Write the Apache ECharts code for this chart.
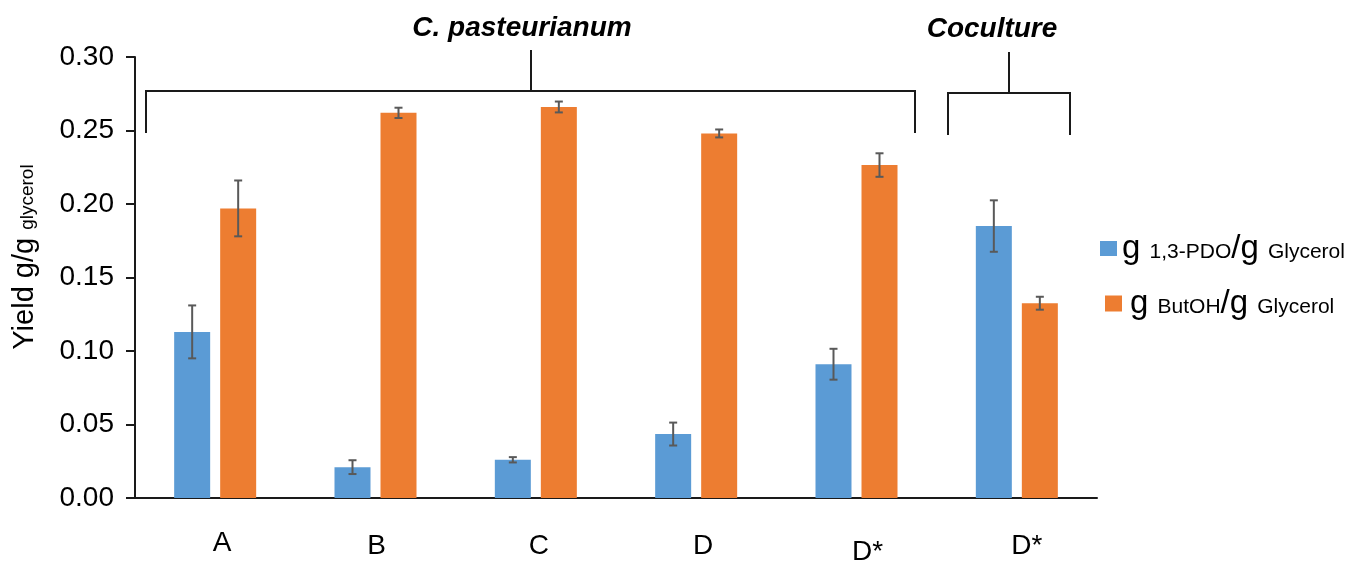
<!DOCTYPE html>
<html>
<head>
<meta charset="utf-8">
<script src="https://cdn.jsdelivr.net/npm/echarts@6/dist/echarts.min.js"></script>
<style>
html,body{margin:0;padding:0;background:#fff;}
#chart{width:1368px;height:562px;}
</style>
</head>
<body>
<div id="chart"></div>
<script>
// ---- data ----
const categories = ['A', 'B', 'C', 'D', 'D*', 'D*'];
const seriesNames = ['g 1,3-PDO/g Glycerol', 'g ButOH/g Glycerol'];
const pdoYield = [0.113, 0.021, 0.026, 0.0435, 0.091, 0.185];
const pdoError = [0.018, 0.0047, 0.0018, 0.0078, 0.0105, 0.0175];
const butohYield = [0.197, 0.262, 0.266, 0.248, 0.2265, 0.1325];
const butohError = [0.019, 0.0035, 0.0037, 0.0027, 0.008, 0.0044];
const yTicks = ['0.00', '0.05', '0.10', '0.15', '0.20', '0.25', '0.30'];
const groupLabels = ['C. pasteurianum', 'Coculture'];

// ---- style ----
const FONT = '"Liberation Sans", Arial, sans-serif';
const BLUE = '#5B9BD5';
const ORANGE = '#ED7D31';
const ERR = '#595959';
const BAR_W = 36;
const BAR_GAP_PX = 10;
const labelNudge = [[0, 7], [3, 1], [3, 3], [3, 7], [9, 11], [3, 10]]; // [down, right]

const chart = echarts.init(document.getElementById('chart'), null, {renderer: 'canvas'});

function errSeries(vals, errs, sign, name) {
  return {
    type: 'custom',
    name: name + ' err',
    z: 5,
    silent: true,
    data: vals.map((v, i) => [i, v, errs[i]]),
    renderItem: function (params, api) {
      const i = api.value(0), v = api.value(1), e = api.value(2);
      const off = sign * (BAR_W + BAR_GAP_PX) / 2;
      const t = api.coord([i, v + e]);
      const b = api.coord([i, v - e]);
      const cx = t[0] + off;
      const hw = 4;
      const st = {stroke: ERR, lineWidth: 2};
      return {
        type: 'group',
        children: [
          {type: 'line', shape: {x1: cx, y1: t[1], x2: cx, y2: b[1]}, style: st},
          {type: 'line', shape: {x1: cx - hw, y1: t[1], x2: cx + hw, y2: t[1]}, style: st},
          {type: 'line', shape: {x1: cx - hw, y1: b[1], x2: cx + hw, y2: b[1]}, style: st}
        ]
      };
    }
  };
}

const legendRich = {
  big: {fontSize: 33, fontFamily: FONT, color: '#000', lineHeight: 36},
  sub: {fontSize: 21, fontFamily: FONT, color: '#000', lineHeight: 36, padding: [7, 0, 0, 0]}
};
function legendFmt(name) {
  const parts = name.split(' '); // g, X/g, Glycerol
  const mid = parts[1].split('/');
  return '{big|g }{sub|' + mid[0] + '}{big|/g }{sub|' + parts[2] + '}';
}

const option = {
  animation: false,
  backgroundColor: '#fff',
  grid: {left: 135, right: 271, top: 57, bottom: 64, containLabel: false, outerBoundsMode: 'none'},
  legend: [
    {data: [seriesNames[0]], left: 1095, top: 227, icon: 'rect', itemWidth: 17, itemHeight: 15,
     itemGap: 0, formatter: legendFmt, textStyle: {rich: legendRich, padding: [0, 0, 0, 0]}},
    {data: [seriesNames[1]], left: 1100, top: 282, icon: 'rect', itemWidth: 17, itemHeight: 16,
     itemGap: 0, formatter: legendFmt, textStyle: {rich: legendRich, padding: [0, 0, 0, 3]}}
  ],
  xAxis: {
    type: 'category',
    data: categories.map((c, i) => ({
      value: c,
      textStyle: {padding: [labelNudge[i][0], 0, 0, labelNudge[i][1] * 2]}
    })),
    axisLine: {lineStyle: {color: '#1a1a1a', width: 2}},
    axisTick: {show: false},
    axisLabel: {fontSize: 28, fontFamily: FONT, color: '#000', margin: 31, interval: 0},
    splitLine: {show: false}
  },
  yAxis: {
    type: 'value',
    min: 0, max: 0.30, interval: 0.05,
    axisLine: {show: true, lineStyle: {color: '#1a1a1a', width: 2}},
    axisTick: {show: true, length: 9, lineStyle: {color: '#1a1a1a', width: 2}},
    axisLabel: {
      fontSize: 28, fontFamily: FONT, color: '#000', margin: 21,
      formatter: v => yTicks[Math.round(v / 0.05)]
    },
    splitLine: {show: false}
  },
  series: [
    {type: 'bar', name: seriesNames[0], data: pdoYield, barWidth: BAR_W,
     barGap: (BAR_GAP_PX / BAR_W * 100).toFixed(1) + '%',
     itemStyle: {color: BLUE}},
    {type: 'bar', name: seriesNames[1], data: butohYield, barWidth: BAR_W,
     itemStyle: {color: ORANGE}},
    errSeries(pdoYield, pdoError, -1, seriesNames[0]),
    errSeries(butohYield, butohError, 1, seriesNames[1])
  ],
  graphic: [
    {type: 'text', x: 25, y: 257, rotation: Math.PI / 2,
     style: {text: '{m|Yield g/g }{s|glycerol}', align: 'center', verticalAlign: 'middle',
       rich: {
         m: {fontSize: 29, fontFamily: FONT, fill: '#000'},
         s: {fontSize: 19, fontFamily: FONT, fill: '#000', padding: [5, 0, 0, 0]}
       }}},
    {type: 'text', x: 522, y: 28,
     style: {text: groupLabels[0], font: 'italic bold 28px ' + FONT, fill: '#000', align: 'center', verticalAlign: 'middle'}},
    {type: 'text', x: 992, y: 29,
     style: {text: groupLabels[1], font: 'italic bold 28px ' + FONT, fill: '#000', align: 'center', verticalAlign: 'middle'}},
    {type: 'polyline', shape: {points: [[146, 133], [146, 91], [915, 91], [915, 133]]},
     style: {stroke: '#1a1a1a', lineWidth: 2, fill: null}},
    {type: 'line', shape: {x1: 531, y1: 91, x2: 531, y2: 50}, style: {stroke: '#1a1a1a', lineWidth: 2}},
    {type: 'polyline', shape: {points: [[948, 135], [948, 93], [1070, 93], [1070, 135]]},
     style: {stroke: '#1a1a1a', lineWidth: 2, fill: null}},
    {type: 'line', shape: {x1: 1009, y1: 93, x2: 1009, y2: 52}, style: {stroke: '#1a1a1a', lineWidth: 2}}
  ]
};
chart.setOption(option);
</script>
</body>
</html>
